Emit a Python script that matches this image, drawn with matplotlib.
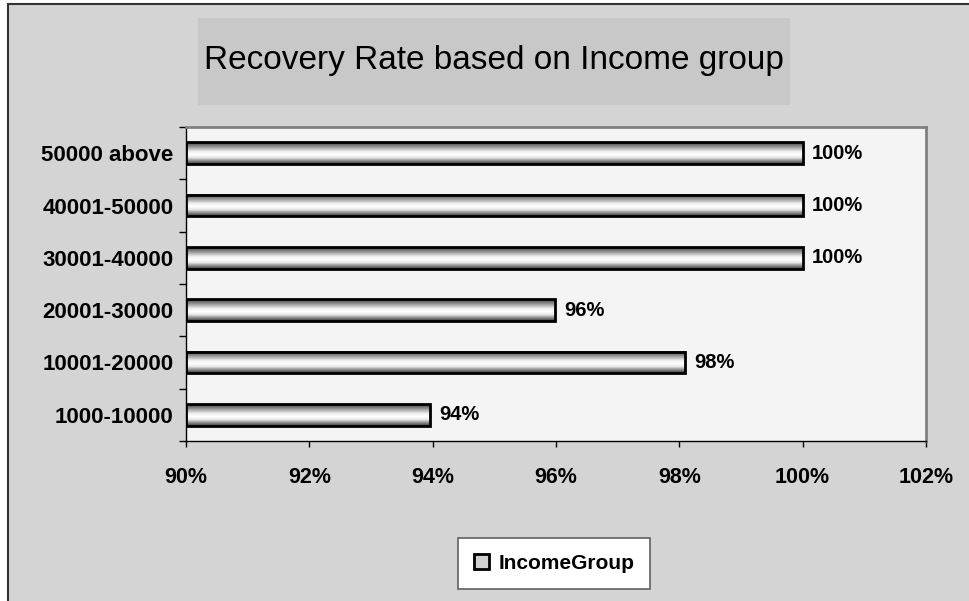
import numpy as np
import matplotlib
matplotlib.use('Agg')
import matplotlib.pyplot as plt
from matplotlib.patches import Rectangle, Patch
from matplotlib.colors import LinearSegmentedColormap

plt.rcParams['font.family'] = ['Liberation Sans', 'DejaVu Sans']

# Recovery rate (%) per income group, bottom to top
groups = ['1000-10000', '10001-20000', '20001-30000',
          '30001-40000', '40001-50000', '50000 above']
rates = [93.96, 98.1, 95.98, 100.0, 100.0, 100.0]
xticks = [90, 92, 94, 96, 98, 100, 102]
title = 'Recovery Rate based on Income group'
series_name = 'IncomeGroup'

# vertical shading used inside each bar (top -> bottom)
shade = LinearSegmentedColormap.from_list(
    'shade', ['#3a3a3a', '#8c8c8c', '#e6e6e6', '#ffffff', '#f0f0f0',
              '#b4b4b4', '#7a7a7a', '#404040'])

fig = plt.figure(figsize=(9.69, 6.01), dpi=100, facecolor='white')

# chart background with dark left/top frame
fig.patches.append(Rectangle((8 / 969, -0.2), 1.2, 1.2 - 4 / 601,
                             transform=fig.transFigure, facecolor='#d4d4d4',
                             edgecolor='#333333', linewidth=1.5, zorder=0))
# title box
fig.patches.append(Rectangle((198 / 969, 1 - 105 / 601), 592 / 969, 87 / 601,
                             transform=fig.transFigure, facecolor='#c8c8c8',
                             edgecolor='none', zorder=0.5))
fig.text(494 / 969, 1 - 69 / 601, title, ha='center', va='baseline',
         fontsize=24, color='black', zorder=1)

ax = fig.add_axes([186 / 969, 1 - 441 / 601, 740 / 969, 314 / 601])
ax.set_zorder(2)
ax.set_facecolor('#f4f4f4')

y = np.arange(len(groups))
h = 0.42
bars = ax.barh(y, [r - 90 for r in rates], left=90, height=h,
               facecolor='none', edgecolor='black', linewidth=2, zorder=3)
grad = np.linspace(0, 1, 64).reshape(-1, 1)
for b, r in zip(bars, rates):
    x0, yb = b.get_x(), b.get_y()
    ax.imshow(grad, cmap=shade, aspect='auto', zorder=2,
              extent=(x0, x0 + b.get_width(), yb + b.get_height(), yb))
    ax.annotate(f'{r:.0f}%', (x0 + b.get_width(), yb + b.get_height() / 2),
                xytext=(6.5, 0), textcoords='offset points', va='center',
                ha='left', fontsize=14.5, fontweight='bold')

ax.set_xlim(90, 102)
ax.set_ylim(-0.5, len(groups) - 0.5)
ax.set_xticks(xticks)
ax.set_xticklabels([f'{t}%' for t in xticks], fontsize=15.5, fontweight='bold')
ax.tick_params(axis='x', direction='out', length=4, width=1, pad=15)

ax.set_yticks(np.arange(len(groups) + 1) - 0.5)
ax.set_yticklabels([])
ax.set_yticks(y, minor=True)
ax.set_yticklabels(groups, minor=True, fontsize=16, fontweight='bold')
ax.tick_params(axis='y', which='major', direction='out', length=5, width=1)
ax.tick_params(axis='y', which='minor', length=0, pad=9)

for s in ['top', 'right']:
    ax.spines[s].set_color('#808080')
    ax.spines[s].set_linewidth(2)
for s in ['left', 'bottom']:
    ax.spines[s].set_color('black')
    ax.spines[s].set_linewidth(1)

handle = Patch(facecolor='#d0d0d0', edgecolor='black', linewidth=2)
leg = fig.legend([handle], [series_name], loc='center',
                 bbox_to_anchor=(554 / 969, 1 - 563.5 / 601),
                 fancybox=False, framealpha=1, edgecolor='#606060',
                 prop={'weight': 'bold', 'size': 15}, handlelength=0.75,
                 handleheight=0.75, handletextpad=0.45, borderpad=0.75,
                 borderaxespad=0)
leg.get_frame().set_linewidth(1.2)

fig.savefig('out.png', dpi=100)
